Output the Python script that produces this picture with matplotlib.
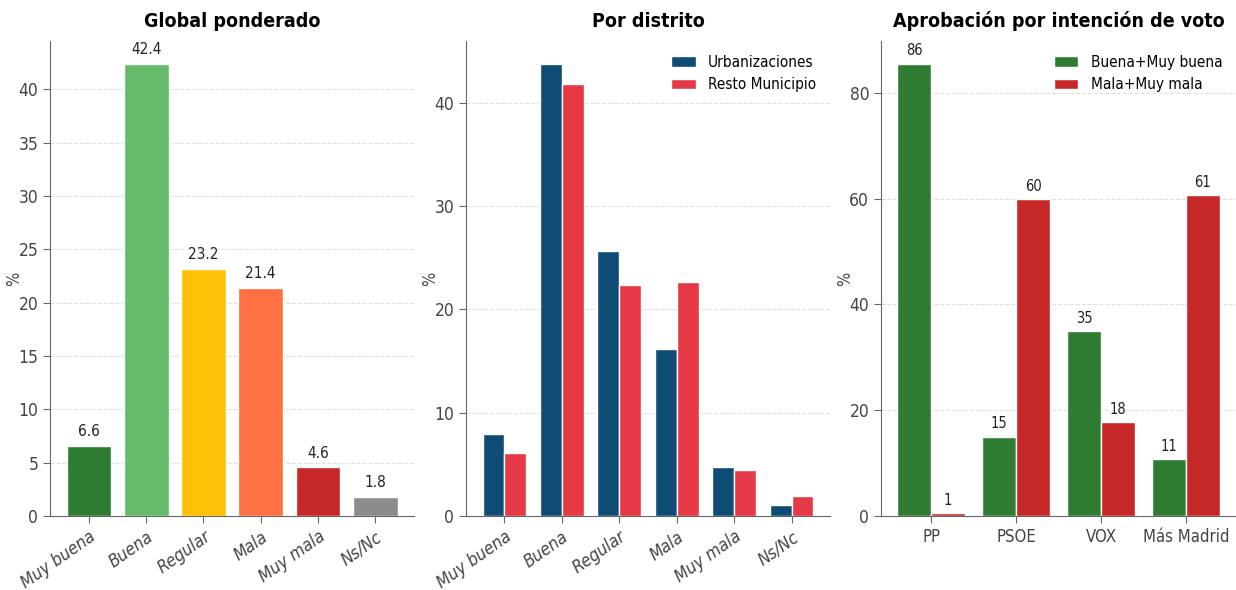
import numpy as np
import matplotlib
matplotlib.use("Agg")
import matplotlib.pyplot as plt
from matplotlib.ticker import MultipleLocator

# categorías y datos
categorias = ['Muy buena', 'Buena', 'Regular', 'Mala', 'Muy mala', 'Ns/Nc']
global_pond = [6.6, 42.4, 23.2, 21.4, 4.6, 1.8]
urbanizaciones = [7.9, 43.8, 25.7, 16.2, 4.7, 1.1]
resto_municipio = [6.1, 41.8, 22.4, 22.7, 4.5, 1.9]
partidos = ['PP', 'PSOE', 'VOX', 'Más Madrid']
buena_muy_buena = [85.5, 15.0, 34.9, 10.8]
mala_muy_mala = [0.6, 59.9, 17.8, 60.6]

plt.rcParams['font.family'] = 'DejaVu Sans'
plt.rcParams['font.stretch'] = 'condensed'

colores_global = ['#2e7d32', '#66bb6a', '#ffc107', '#ff7043', '#c62828', '#8c8c8c']
c_urb = '#0f4c75'
c_resto = '#e63946'
c_buena = '#2e7d32'
c_mala = '#c62828'
gris = '#444444'


def estilo(ax):
    ax.spines['top'].set_visible(False)
    ax.spines['right'].set_visible(False)
    ax.spines['left'].set_color('#666666')
    ax.spines['bottom'].set_color('#666666')
    ax.tick_params(colors='#666666', labelcolor=gris, labelsize=12.5, length=5)
    ax.yaxis.grid(True, linestyle='--', color='#e0e0e0', linewidth=0.8)
    ax.set_axisbelow(True)
    ax.set_ylabel('%', fontsize=12, color=gris)
    ax.yaxis.set_label_coords(-0.075, 0.5)


fig = plt.figure(figsize=(12.36, 5.9), dpi=100)
ancho = 0.2945
abajo, alto = 0.1254, 0.805
ax1 = fig.add_axes([0.0405, abajo, ancho, alto])
ax2 = fig.add_axes([0.377, abajo, ancho, alto])
ax3 = fig.add_axes([0.7128, abajo, 0.2872, alto])

# Panel 1: global ponderado
x = np.arange(len(categorias))
ax1.bar(x, global_pond, 0.78, color=colores_global, edgecolor='white', linewidth=1)
for xi, v in zip(x, global_pond):
    ax1.text(xi, v + 0.6, f'{v:.1f}', ha='center', va='bottom', fontsize=11, color='#222222')
ax1.set_ylim(0, max(global_pond) * 1.05)
ax1.set_xticks(x)
ax1.set_xticklabels(categorias, rotation=35, ha='right', rotation_mode='anchor',
                    fontstyle='italic', fontstretch='condensed')
ax1.set_title('Global ponderado', fontsize=14, fontweight='bold', pad=10)
estilo(ax1)

# Panel 2: por distrito
w = 0.38
ax2.bar(x - 0.19, urbanizaciones, w, color=c_urb, edgecolor='white', linewidth=1, label='Urbanizaciones')
ax2.bar(x + 0.19, resto_municipio, w, color=c_resto, edgecolor='white', linewidth=1, label='Resto Municipio')
ax2.set_ylim(0, max(urbanizaciones) * 1.05)
ax2.set_xticks(x)
ax2.set_xticklabels(categorias, rotation=35, ha='right', rotation_mode='anchor',
                    fontstyle='italic', fontstretch='condensed')
ax2.set_title('Por distrito', fontsize=14, fontweight='bold', pad=10)
ax2.legend(frameon=False, fontsize=11, loc='upper right', handlelength=1.6)
estilo(ax2)

# Panel 3: aprobación por intención de voto
x3 = np.arange(len(partidos))
w3 = 0.4
ax3.bar(x3 - 0.2, buena_muy_buena, w3, color=c_buena, edgecolor='white', linewidth=1, label='Buena+Muy buena')
ax3.bar(x3 + 0.2, mala_muy_mala, w3, color=c_mala, edgecolor='white', linewidth=1, label='Mala+Muy mala')
for xi, v in zip(x3, buena_muy_buena):
    ax3.text(xi - 0.2, v + 1, f'{v:.0f}', ha='center', va='bottom', fontsize=10.5, color='#222222')
for xi, v in zip(x3, mala_muy_mala):
    ax3.text(xi + 0.2, v + 1, f'{v:.0f}', ha='center', va='bottom', fontsize=10.5, color='#222222')
ax3.set_ylim(0, max(buena_muy_buena) * 1.05)
ax3.yaxis.set_major_locator(MultipleLocator(20))
ax3.set_xticks(x3)
ax3.set_xticklabels(partidos)
ax3.set_title('Aprobación por intención de voto', fontsize=14, fontweight='bold', pad=10)
ax3.legend(frameon=False, fontsize=11, loc='upper right', handlelength=1.6)
estilo(ax3)
ax3.tick_params(axis='x', labelsize=12)

plt.savefig('out.png', dpi=100)
